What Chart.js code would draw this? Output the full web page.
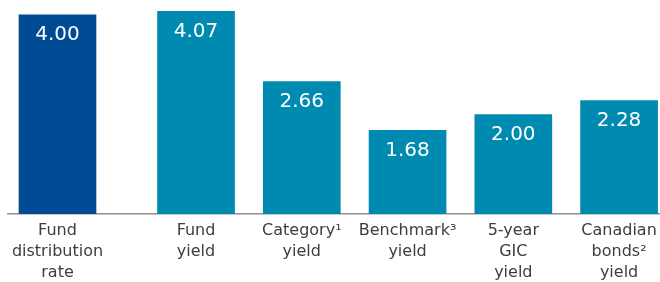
<!DOCTYPE html>
<html>
<head>
<meta charset="utf-8">
<script src="https://cdn.jsdelivr.net/npm/chart.js@4"></script>
<style>
  html, body { margin: 0; padding: 0; background: #fff; }
  #wrap { width: 660px; height: 282px; }
</style>
</head>
<body>
<div id="wrap"><canvas id="chart"></canvas></div>
<script>
// data
const categories = [
  ['Fund', 'distribution', 'rate'],
  ['Fund', 'yield'],
  ['Category\u00B9', 'yield'],
  ['Benchmark\u00B3', 'yield'],
  ['5-year', 'GIC', 'yield'],
  ['Canadian', 'bonds\u00B2', 'yield']
];
const values = [4.00, 4.07, 2.66, 1.68, 2.00, 2.28];

// style
const darkBlue = '#004b93';
const teal = '#008ab0';
const firstGap = 0.31; // extra space after the first bar

const positions = values.map((v, i) => i === 0 ? 0 : i + firstGap);

const valueLabels = {
  id: 'valueLabels',
  afterDatasetsDraw(chart) {
    const ctx = chart.ctx;
    const meta = chart.getDatasetMeta(0);
    ctx.save();
    ctx.fillStyle = '#ffffff';
    ctx.font = '20px "DejaVu Sans"';
    ctx.textAlign = 'center';
    ctx.textBaseline = 'middle';
    meta.data.forEach((bar, i) => {
      ctx.fillText(values[i].toFixed(2), bar.x, bar.y + 20);
    });
    ctx.restore();
  }
};

const ctx = document.getElementById('chart').getContext('2d');
new Chart(ctx, {
  type: 'bar',
  data: {
    datasets: [{
      data: values.map((v, i) => ({ x: positions[i], y: v })),
      backgroundColor: values.map((v, i) => i === 0 ? darkBlue : teal),
      barThickness: 77,
      borderWidth: 0
    }]
  },
  options: {
    responsive: true,
    maintainAspectRatio: false,
    animation: false,
    layout: { padding: { left: 8, right: 0, top: 0, bottom: 0 } },
    plugins: { legend: { display: false }, tooltip: { enabled: false } },
    scales: {
      x: {
        type: 'linear',
        offset: false,
        bounds: 'data',
        min: -0.468,
        max: 5.697,
        grid: { display: false, drawTicks: false, offset: false },
        border: { display: true, color: '#8f8f8f', width: 1.5 },
        afterBuildTicks(scale) {
          scale.ticks = positions.map(p => ({ value: p }));
        },
        afterFit(scale) {
          scale.height = 68;
          scale.paddingLeft = 0;
          scale.paddingRight = 0;
        },
        ticks: {
          autoSkip: false,
          maxRotation: 0,
          minRotation: 0,
          padding: 6,
          color: '#3d3d3d',
          font: { family: '"DejaVu Sans"', size: 16, lineHeight: 1.32 },
          callback: (value, index) => categories[index]
        }
      },
      y: {
        display: false,
        min: 0,
        max: 4.3
      }
    }
  },
  plugins: [valueLabels]
});
</script>
</body>
</html>
